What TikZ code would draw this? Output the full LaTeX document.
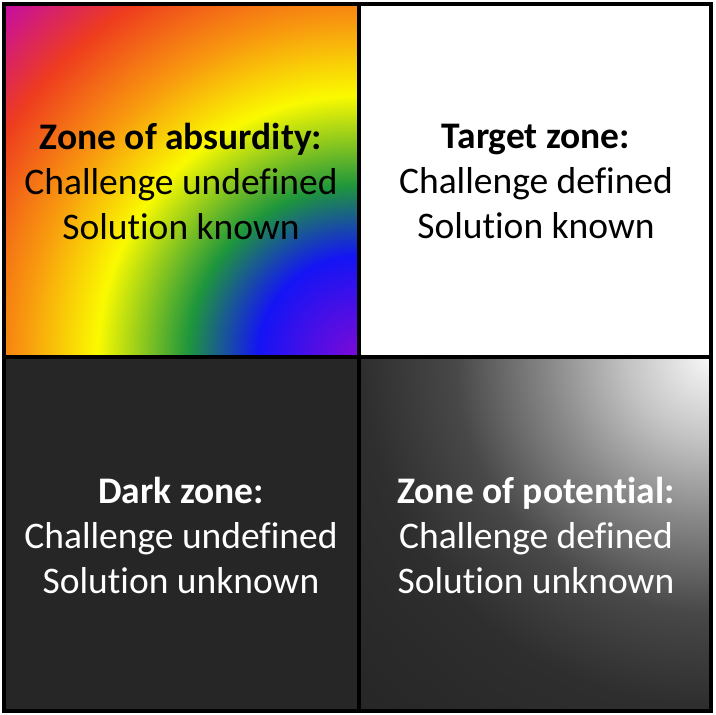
\documentclass[tikz,border=0pt]{standalone}
\usepackage{fontspec}
\setmainfont[Ligatures=NoCommon]{Carlito}
\definecolor{rbPurple}{RGB}{125,10,215}
\definecolor{rbBlue}{RGB}{20,20,245}
\definecolor{rbGreen}{RGB}{30,150,60}
\definecolor{rbYellow}{RGB}{250,250,0}
\definecolor{rbOrange}{RGB}{248,150,15}
\definecolor{rbRed}{RGB}{238,60,30}
\definecolor{rbMagenta}{RGB}{195,10,170}
\definecolor{darkzone}{RGB}{38,38,38}
\definecolor{gA}{RGB}{248,248,248}
\definecolor{gB}{RGB}{195,195,195}
\definecolor{gC}{RGB}{135,135,135}
\definecolor{gD}{RGB}{72,72,72}
\definecolor{gE}{RGB}{46,46,46}
\definecolor{gF}{RGB}{38,38,38}
\pgfdeclareradialshading{rainbow}{\pgfpoint{0bp}{0bp}}{color(0bp)=(rbPurple); color(5bp)=(rbBlue); color(8.5bp)=(rbGreen); color(13bp)=(rbYellow); color(16.8bp)=(rbOrange); color(20.8bp)=(rbRed); color(25bp)=(rbMagenta); color(50bp)=(rbMagenta)}
\pgfdeclareradialshading{glow}{\pgfpoint{0bp}{0bp}}{color(0bp)=(gA); color(4.2bp)=(gB); color(8.2bp)=(gC); color(12.8bp)=(gD); color(17.5bp)=(gE); color(25bp)=(gF); color(50bp)=(gF)}
\tikzset{
  zonetext/.style={align=center, font=\fontsize{37.5}{45}\selectfont, inner sep=0pt},
  gridline/.style={line width=4pt, black}
}
\begin{document}
\begin{tikzpicture}[x=1pt,y=-1pt]
\useasboundingbox (0,0) rectangle (716,715);
\fill[white] (0,0) rectangle (716,715);
% top-left rainbow
\begin{scope}
  \clip (4,4) rectangle (358.5,356.5);
  \shade[shading=rainbow] (358.5,356.5) circle (502pt);
\end{scope}
% top-right white
\fill[white] (358.5,4) rectangle (711,356.5);
% bottom-left dark
\fill[darkzone] (4,356.5) rectangle (358.5,711);
% bottom-right glow
\begin{scope}
  \clip (358.5,356.5) rectangle (711,711);
  \shade[shading=glow] (711,356.5) circle (500pt);
\end{scope}
% grid
\draw[gridline] (4,4) rectangle (711,711);
\draw[gridline] (358.5,4) -- (358.5,711);
\draw[gridline] (4,356.5) -- (711,356.5);
% texts
\node[zonetext, text=black] (absurd) at (181,181) {\textbf{Zone of absurdity:}\\Challenge undefined\\Solution known};
\node[zonetext, text=black] (target) at (536,181) {\textbf{Target zone:}\\Challenge defined\\Solution known};
\node[zonetext, text=white] (dark) at (181,535) {\textbf{Dark zone:}\\Challenge undefined\\Solution unknown};
\node[zonetext, text=white] (potential) at (536,535) {\textbf{Zone of potential:}\\Challenge defined\\Solution unknown};
\end{tikzpicture}
\end{document}
